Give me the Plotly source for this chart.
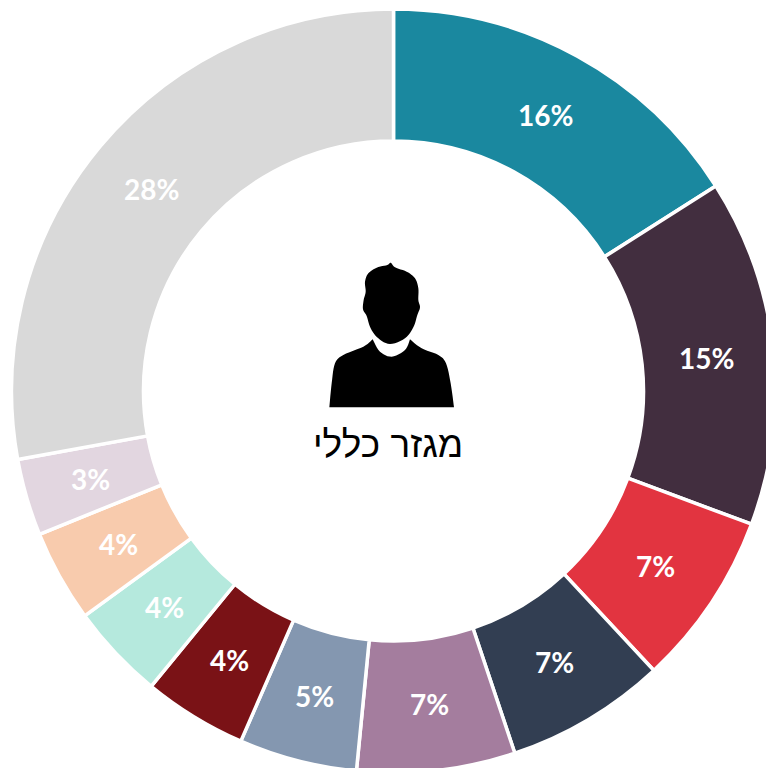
import math
import plotly.graph_objects as go

# --- data ---
categories = ["A", "B", "C", "D", "E", "F", "G", "H", "I", "J", "K"]
shares = [16.0, 14.7, 7.4, 6.8, 6.7, 5.0, 4.4, 4.05, 3.9, 3.25, 27.9]
colors = ["#1A889F", "#422E3F", "#E23440", "#323E52", "#A47D9E", "#8497B0",
          "#7A1216", "#B5E9DD", "#F8CBAD", "#E2D6E0", "#D9D9D9"]
center_label = "מגזר כללי"

# --- page geometry (the ring runs past the window's right and bottom edges) ---
FIG_W, FIG_H = 788, 782
CX, CY, R_OUT, R_IN = 393.5, 391, 382, 250
R_LABEL = 315

# --- person icon outline, in 3x crop coordinates of the picture ---
ICON_HEAD = [(270, 282), (235, 265), (212, 235), (200, 198), (189, 178), (191, 150), (197, 125),
             (195, 95), (205, 70), (230, 53), (262, 45), (272, 38), (285, 52), (320, 65),
             (345, 85), (355, 115), (355, 150), (360, 172), (352, 195), (340, 232), (315, 265)]
ICON_BODY_LEFT = [(218, 268), (190, 290), (130, 315), (105, 340), (95, 400), (88, 472)]
ICON_BODY_RIGHT = [(462, 472), (452, 400), (438, 340), (415, 315), (365, 295), (330, 268)]
ICON_COLLAR = [(330, 268), (315, 300), (275, 320), (240, 305), (218, 268)]


def to_paper(p):
    return (300 + p[0] / 3) / FIG_W, 1 - (250 + p[1] / 3) / FIG_H


def spline(points, closed=False, steps=6):
    out = []
    n = len(points)
    rng = range(n) if closed else range(n - 1)
    for i in rng:
        if closed:
            p0, p1, p2, p3 = points[i - 1], points[i], points[(i + 1) % n], points[(i + 2) % n]
        else:
            p0, p1, p2, p3 = points[max(i - 1, 0)], points[i], points[i + 1], points[min(i + 2, n - 1)]
        for s in range(steps):
            t = s / steps
            out.append(tuple(0.5 * (2 * p1[k] + (p2[k] - p0[k]) * t
                                    + (2 * p0[k] - 5 * p1[k] + 4 * p2[k] - p3[k]) * t ** 2
                                    + (3 * p1[k] - p0[k] - 3 * p2[k] + p3[k]) * t ** 3)
                             for k in (0, 1)))
    if not closed:
        out.append(points[-1])
    return out


def path(points):
    pts = [to_paper(p) for p in points]
    return "M" + " L".join(f"{x:.5f},{y:.5f}" for x, y in pts) + " Z"


head_path = path(spline(ICON_HEAD, closed=True))
body_path = path(spline(ICON_BODY_LEFT) + spline(ICON_BODY_RIGHT) + spline(ICON_COLLAR))

fig = go.Figure(go.Pie(
    labels=categories,
    values=shares,
    sort=False,
    direction="clockwise",
    rotation=0,
    hole=R_IN / R_OUT,
    marker=dict(colors=colors, line=dict(color="#FFFFFF", width=3.5)),
    textinfo="none",
    domain=dict(x=[(CX - R_OUT) / FIG_W, (CX + R_OUT) / FIG_W],
                y=[(FIG_H - CY - R_OUT) / FIG_H, (FIG_H - CY + R_OUT) / FIG_H]),
    showlegend=False,
))

# percent labels sit at the middle of each sector's band, upright
total = sum(shares)
annotations = []
running = 0.0
for value in shares:
    mid = (running + value / 2) / total * 2 * math.pi
    running += value
    px = CX + R_LABEL * math.sin(mid)
    py = CY - R_LABEL * math.cos(mid)
    annotations.append(dict(
        text=f"{round(value / total * 100)}%",
        x=px / FIG_W, y=1 - py / FIG_H, xref="paper", yref="paper",
        xanchor="center", yanchor="middle", showarrow=False,
        font=dict(family="Lato, 'Open Sans', sans-serif", size=28, color="#FFFFFF", weight="bold"),
    ))
annotations.append(dict(
    text=center_label, x=387.5 / FIG_W, y=1 - 444 / FIG_H, xref="paper", yref="paper",
    xanchor="center", yanchor="middle", showarrow=False,
    font=dict(family="Liberation Sans, Arial, sans-serif", size=37, color="#000000"),
))

fig.update_layout(
    width=FIG_W,
    height=FIG_H,
    margin=dict(l=0, r=0, t=0, b=0),
    paper_bgcolor="#FFFFFF",
    shapes=[
        dict(type="path", xref="paper", yref="paper", path=head_path, fillcolor="#000000", line=dict(width=0)),
        dict(type="path", xref="paper", yref="paper", path=body_path, fillcolor="#000000", line=dict(width=0)),
    ],
    annotations=annotations,
)

fig.write_html(
    "out.html",
    config={"displayModeBar": False, "responsive": False},
    post_script=(
        "document.documentElement.style.overflow='hidden';"
        "document.body.style.overflow='hidden';"
        "document.body.style.margin='0';"
    ),
)
